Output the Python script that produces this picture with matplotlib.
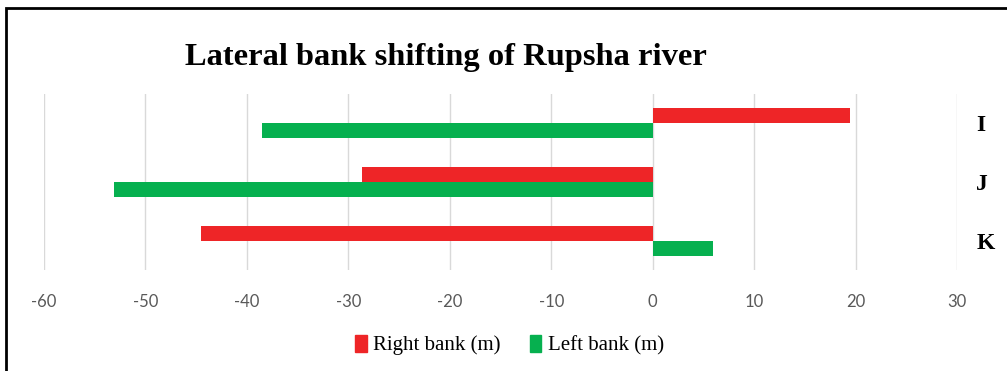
import numpy as np
import matplotlib.pyplot as plt
from matplotlib.patches import Rectangle, Patch

sections = ["I", "J", "K"]
right_bank = [19.5, -28.7, -44.5]
left_bank = [-38.5, -53.1, 6.0]
xticks = [-60, -50, -40, -30, -20, -10, 0, 10, 20, 30]

red = "#EE2527"
green = "#06B04F"

fig = plt.figure(figsize=(10.07, 3.71), dpi=100)
ax = fig.add_axes([0.0437, 0.2722, 0.9066, 0.4744])

y = np.arange(len(sections))
h = 0.256
ax.barh(y - h / 2, right_bank, height=h, color=red, label="Right bank (m)", zorder=3)
ax.barh(y + h / 2, left_bank, height=h, color=green, label="Left bank (m)", zorder=3)

ax.set_xlim(-60, 30)
ax.set_ylim(2.5, -0.5)
ax.set_xticks(xticks)
ax.set_xticklabels([str(t) for t in xticks], fontfamily="Lato", fontsize=12, color="#595959")
ax.grid(axis="x", color="#D9D9D9", linewidth=1, zorder=0)
ax.tick_params(axis="x", length=0, pad=17)

ax.yaxis.tick_right()
ax.set_yticks(y)
ax.set_yticklabels(sections, fontfamily="Liberation Serif", fontweight="bold", fontsize=17)
ax.tick_params(axis="y", length=0, pad=14)

for s in ax.spines.values():
    s.set_visible(False)

fig.text(0.443, 0.846, "Lateral bank shifting of Rupsha river", ha="center", va="center",
         fontfamily="Liberation Serif", fontweight="bold", fontsize=23.4)

handles = [Patch(color=red, label="Right bank (m)"), Patch(color=green, label="Left bank (m)")]
fig.legend(handles=handles, loc="center", bbox_to_anchor=(0.506, 0.07), ncol=2, frameon=False,
           prop={"family": "Liberation Serif", "size": 15}, handlelength=0.55, handleheight=0.9,
           handletextpad=0.3, columnspacing=1.4)

# chart border (only top and left edges visible in the crop)
fig.patches.append(Rectangle((6 / 1007, -0.5), 2, 1.5 - 8 / 371, transform=fig.transFigure,
                             fill=False, edgecolor="black", linewidth=2))

fig.savefig("out.png", dpi=100)
